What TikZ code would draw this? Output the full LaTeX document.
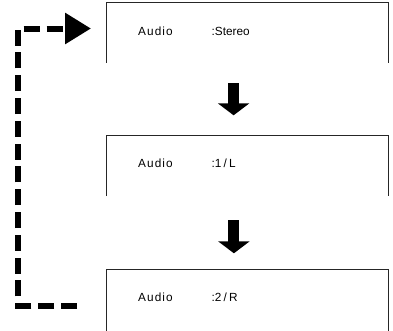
\documentclass[tikz,border=0pt]{standalone}
\usepackage{fontspec}
\setmainfont{Liberation Sans}
\usetikzlibrary{arrows.meta}
\begin{document}
\begin{tikzpicture}[x=1pt,y=-1pt,
  openbox/.style={draw=none,inner sep=0pt},
  boxline/.style={draw=black!85,line width=0.9pt},
  label/.style={anchor=base west,inner sep=0pt,font=\fontsize{11.8pt}{13pt}\selectfont},
  downarrow/.style={line width=11pt,-{Triangle[length=12pt,width=31pt]}},
  loopline/.style={line width=6pt,dash pattern=on 16pt off 6.8pt,-{Triangle[length=26pt,width=30pt]}}]
\useasboundingbox (0,0) rectangle (393,330);
% boxes (open at the bottom)
\node[openbox,minimum width=281.5pt,minimum height=59.5pt] (b1) at (247.25,32.75) {};
\node[openbox,minimum width=281.5pt,minimum height=60pt] (b2) at (247.25,166) {};
\node[openbox,minimum width=281.5pt,minimum height=62pt] (b3) at (247.25,300.5) {};
\foreach \b in {b1,b2,b3}
  \draw[boxline] (\b.south west) -- (\b.north west) -- (\b.north east) -- (\b.south east);
% texts
\node[label] (t1a) at (138,35.7) {A\kern1.1pt u\kern1.1pt d\kern1.1pt i\kern1.1pt o};
\node[label] (t1b) at (211.5,35.7) {:Stereo};
\node[label] (t2a) at (138,167) {A\kern1.1pt u\kern1.1pt d\kern1.1pt i\kern1.1pt o};
\node[label] (t2b) at (211.5,167) {:1\kern2.2pt/\kern2.2pt L};
\node[label] (t3a) at (138,301.7) {A\kern1.1pt u\kern1.1pt d\kern1.1pt i\kern1.1pt o};
\node[label] (t3b) at (211.5,301.7) {:2\kern2.2pt/\kern2.2pt R};
% down arrows
\coordinate (d1s) at (233.6,83);
\coordinate (d1e) at (233.6,115.3);
\coordinate (d2s) at (233.9,220);
\coordinate (d2e) at (233.9,253.3);
\draw[downarrow] (d1s) -- (d1e);
\draw[downarrow] (d2s) -- (d2e);
% loop back
\coordinate (ls) at (77,305.8);
\coordinate (lc1) at (18,305.8);
\coordinate (lc2) at (18,28.5);
\coordinate (le) at (91,28.5);
\draw[loopline] (ls) -- (lc1) -- (lc2) -- (le);
\end{tikzpicture}
\end{document}
